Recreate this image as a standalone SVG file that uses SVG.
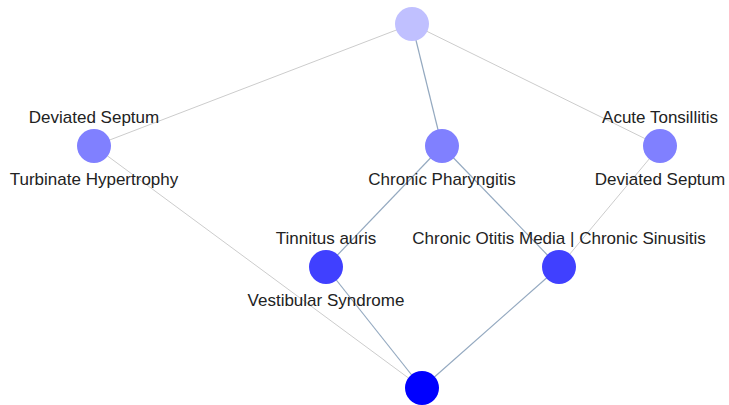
<svg xmlns="http://www.w3.org/2000/svg" width="729" height="405" viewBox="0 0 729 405">
<style>
.e{stroke:#cccccc;stroke-width:1;fill:none}
.b{stroke:#94a9c0;stroke-width:1.2;fill:none}
text{font-family:"Liberation Sans",Arial,sans-serif;font-size:17px;fill:#222;text-anchor:middle}
</style>
<rect width="729" height="405" fill="#fff"/>
<g id="connectors">
<line class="e" x1="412" y1="24" x2="94" y2="146"/>
<line class="b" x1="412" y1="24" x2="442" y2="146"/>
<line class="e" x1="412" y1="24" x2="660" y2="146"/>
<line class="e" x1="94" y1="146" x2="422" y2="388"/>
<line class="b" x1="442" y1="146" x2="326" y2="267"/>
<line class="b" x1="442" y1="146" x2="559" y2="267"/>
<line class="e" x1="660" y1="146" x2="559" y2="267"/>
<line class="b" x1="326" y1="267" x2="422" y2="388"/>
<line class="b" x1="559" y1="267" x2="422" y2="388"/>
</g>
<g id="n0"><circle cx="412" cy="24" r="17" fill="#c0c0ff"/></g>
<g id="n1"><circle cx="94" cy="146" r="17" fill="#8080ff"/><text x="94" y="123">Deviated Septum</text><text x="94" y="185">Turbinate Hypertrophy</text></g>
<g id="n2"><circle cx="442" cy="146" r="17" fill="#8080ff"/><text x="442" y="185">Chronic Pharyngitis</text></g>
<g id="n3"><circle cx="660" cy="146" r="17" fill="#8080ff"/><text x="660" y="123">Acute Tonsillitis</text><text x="660" y="185">Deviated Septum</text></g>
<g id="n4"><circle cx="326" cy="267" r="17" fill="#4040ff"/><text x="326" y="244">Tinnitus auris</text><text x="326" y="306">Vestibular Syndrome</text></g>
<g id="n5"><circle cx="559" cy="267" r="17" fill="#4040ff"/><text x="559" y="244">Chronic Otitis Media | Chronic Sinusitis</text></g>
<g id="n6"><circle cx="422" cy="388" r="17" fill="#0000ff"/></g>
</svg>
